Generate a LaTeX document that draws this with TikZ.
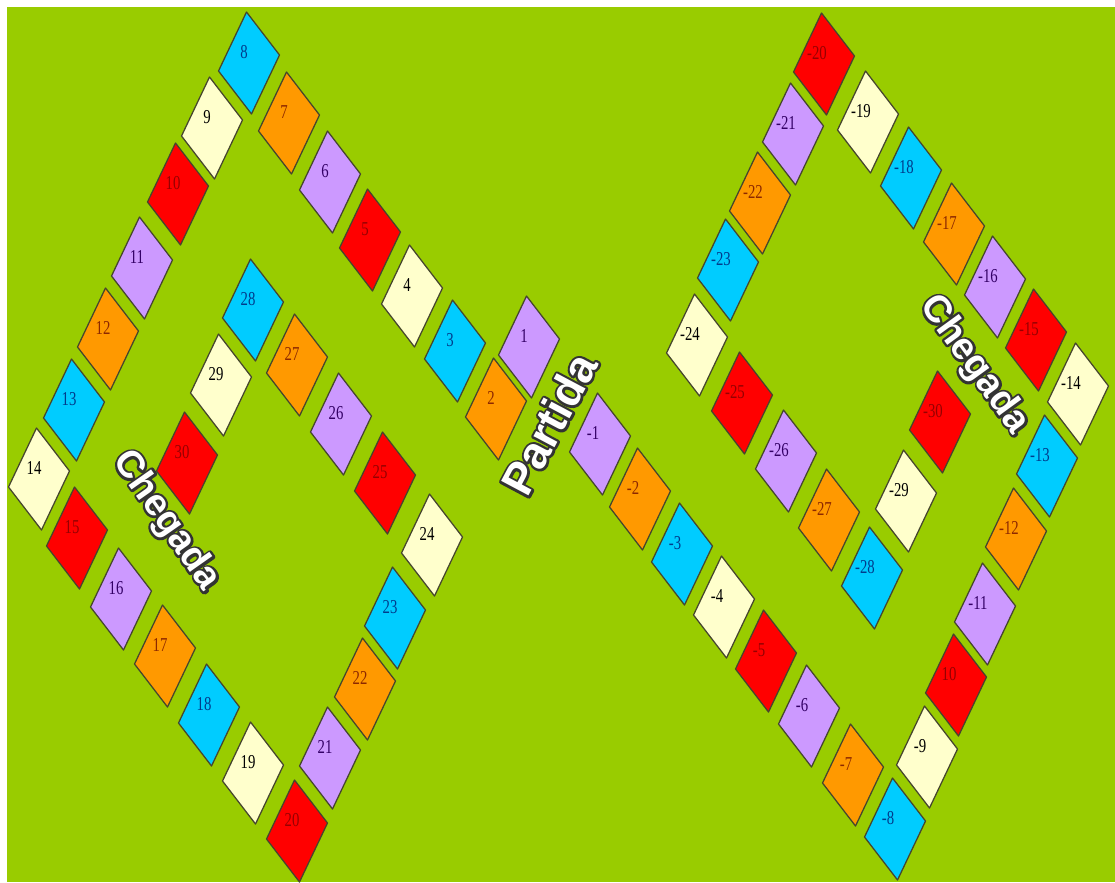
\documentclass[tikz,border=0pt]{standalone}
\usepackage{fontspec}
\setmainfont{Liberation Serif}
\newfontfamily\wordfont{Liberation Sans}
\usetikzlibrary{calc,positioning}
\definecolor{boardGreen}{RGB}{153,204,0}
\definecolor{tile0}{RGB}{255,0,0}
\definecolor{tile1}{RGB}{204,153,255}
\definecolor{tile2}{RGB}{255,153,0}
\definecolor{tile3}{RGB}{0,204,255}
\definecolor{tile4}{RGB}{255,255,204}
\definecolor{ink0}{RGB}{150,0,0}
\definecolor{ink1}{RGB}{51,0,102}
\definecolor{ink2}{RGB}{140,40,0}
\definecolor{ink3}{RGB}{0,60,140}
\definecolor{ink4}{RGB}{0,0,0}
\definecolor{tileEdge}{RGB}{70,70,45}
% white letters with a dark rim
\newcommand{\rimword}[1]{\rlap{\special{pdf:literal direct 1 Tr 3.4 w 1 j 0.2 0.2 0.2 RG}#1\special{pdf:literal direct 0 Tr}}#1}

\begin{document}
\begin{tikzpicture}[x=0.025cm,y=-0.025cm,
    tilebox/.style={draw=tileEdge, line width=0.9pt, line join=round},
    num/.style={inner sep=0pt, font=\fontsize{14}{14}\selectfont, xscale=0.75},
    word/.style={inner sep=0pt, text=white}]
    \useasboundingbox (0,0) rectangle (1115,882);
    \fill[white] (0,0) rectangle (1115,882);
    \fill[boardGreen] (7,7) rectangle (1115,882);

    % left board
    \foreach \lab/\cx/\cy [count=\k] in {1/529/347, 2/496/409, 3/455/351, 4/412/296, 5/370/240,
        6/330/182, 7/289/123, 8/249/63, 9/212/128, 10/178/194, 11/142/268, 12/108/339,
        13/74/410, 14/39/479, 15/77/538, 16/121/599, 17/165/656, 18/209/715, 19/253/773,
        20/297/831, 21/330/758, 22/365/689, 23/395/618, 24/432/545, 25/385/483, 26/341/424,
        27/297/365, 28/253/310, 29/221/385, 30/187/463}{
        \pgfmathtruncatemacro{\c}{mod(\k,5)}
        \draw[tilebox, fill=tile\c] (\cx,\cy) ++(-2.5,-51) -- ++(33,43) -- ++(-28,59) -- ++(-33,-43) -- cycle;
        \node[num, text=ink\c] (L\k) at (\cx-5,\cy-11) {\lab};
    }

    % right board
    \foreach \lab/\cx/\cy [count=\k] in {-1/600/444, -2/640/499, -3/682/554, -4/724/607, -5/766/661,
        -6/809/716, -7/853/775, -8/895/829, -9/927/757, 10/956/685, -11/985/614, -12/1016/539,
        -13/1047/466, -14/1078/394, -15/1036/340, -16/995/287, -17/954/234, -18/911/178,
        -19/868/122, -20/824/64, -21/793/134, -22/760/203, -23/728/270, -24/697/345,
        -25/742/403, -26/786/461, -27/829/520, -28/872/578, -29/906/501, -30/940/422}{
        \pgfmathtruncatemacro{\c}{mod(\k,5)}
        \draw[tilebox, fill=tile\c] (\cx,\cy) ++(-2.5,-51) -- ++(33,43) -- ++(-28,59) -- ++(-33,-43) -- cycle;
        \node[num, text=ink\c] (R\k) at (\cx-7,\cy-11) {\lab};
    }

    \node[word, rotate=-55, font=\wordfont\bfseries\fontsize{27}{27}\selectfont] (chegadaL) at (166,521) {\rimword{Chegada}};
    \node[word, rotate=62, font=\wordfont\bfseries\fontsize{32}{32}\selectfont] (partida) at (549,424) {\rimword{Partida}};
    \node[word, rotate=-54, font=\wordfont\bfseries\fontsize{27}{27}\selectfont] (chegadaR) at (974,365) {\rimword{Chegada}};
\end{tikzpicture}
\end{document}
